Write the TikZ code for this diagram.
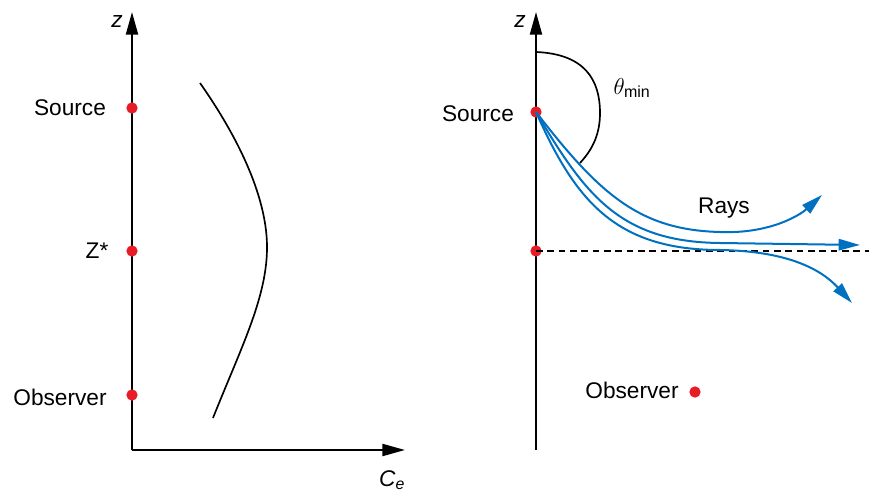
\documentclass[tikz,border=0pt]{standalone}
\usepackage{amsmath}
\usepackage{fontspec}
\setmainfont{Liberation Sans}
\usetikzlibrary{positioning,arrows.meta}
\definecolor{rayblue}{RGB}{0, 112, 192}
\definecolor{dotred}{RGB}{232, 28, 36}

\begin{document}
\begin{tikzpicture}[x=0.75pt, y=-0.75pt, font=\fontsize{17}{20}\selectfont,
    axis/.style={line width=1.6pt, -{Triangle[length=17pt, width=9pt]}},
    dot/.style={circle, fill=dotred, inner sep=0pt, minimum size=8.5pt},
    ray/.style={rayblue, line width=1.5pt, -{Triangle[length=16pt, width=8.5pt]}}]
\useasboundingbox (0,0) rectangle (869,492);
% left panel
\coordinate (o1) at (132,450);
\coordinate (ztip1) at (132,12);
\coordinate (ctip) at (405,450);
\draw[axis] (o1) -- (ztip1);
\draw[axis] (o1) -- (ctip);
\node (zlab1) at (117,22) {\textit{z}};
\node (celab) at (392,480) {\textit{C}\textsubscript{\textit{e}}};
\node[dot] (src1) at (132,108) {};
\node[dot] (zstar) at (132,251) {};
\node[dot] (obs1) at (132,395) {};
\node (srclab1) at (70,108) {Source};
\node (zstarlab) at (97,251) {Z*};
\node (obslab1) at (60,397) {Observer};
\draw[line width=1.25pt] (200,83) .. controls (240,140) and (268,200) .. (267,250)
    .. controls (266,300) and (240,350) .. (213,418);

% right panel
\coordinate (o2) at (536,450);
\coordinate (ztip2) at (536,12);
\draw[axis] (o2) -- (ztip2);
\node (zlab2) at (520,22) {\textit{z}};
\node[dot] (src2) at (536,112) {};
\node[dot] (zs2) at (536,251) {};
\node[dot] (obs2) at (695,392) {};
\node (srclab2) at (478,114) {Source};
\node (obslab2) at (632,390) {Observer};
\coordinate (dashend) at (869,251);
\draw[line width=1.2pt, dash pattern=on 5pt off 3.5pt] (zs2.center) -- (dashend);
% theta_min arc
\draw[line width=1.25pt] (536,52) .. controls (585,54) and (600,80) .. (600,113)
    .. controls (600,135) and (592,150) .. (580,163);
\node (thetalab) at (632,88) {\fontsize{19}{22}\selectfont$\theta_{\text{\fontsize{12}{14}\selectfont min}}$};
% rays
\coordinate (rayA) at (822,195);
\coordinate (rayB) at (860,245);
\coordinate (rayC) at (852,303);
\draw[ray] (src2.center) .. controls (600,195) and (640,230) .. (720,232)
    .. controls (770,234) and (800,215) .. (rayA);
\draw[ray] (src2.center) .. controls (585,195) and (620,242) .. (720,243)
    -- (rayB);
\draw[ray] (src2.center) .. controls (575,200) and (615,250) .. (720,250)
    .. controls (785,251) and (820,268) .. (rayC);
\node (raylab) at (724,208) {Rays};
\end{tikzpicture}
\end{document}
